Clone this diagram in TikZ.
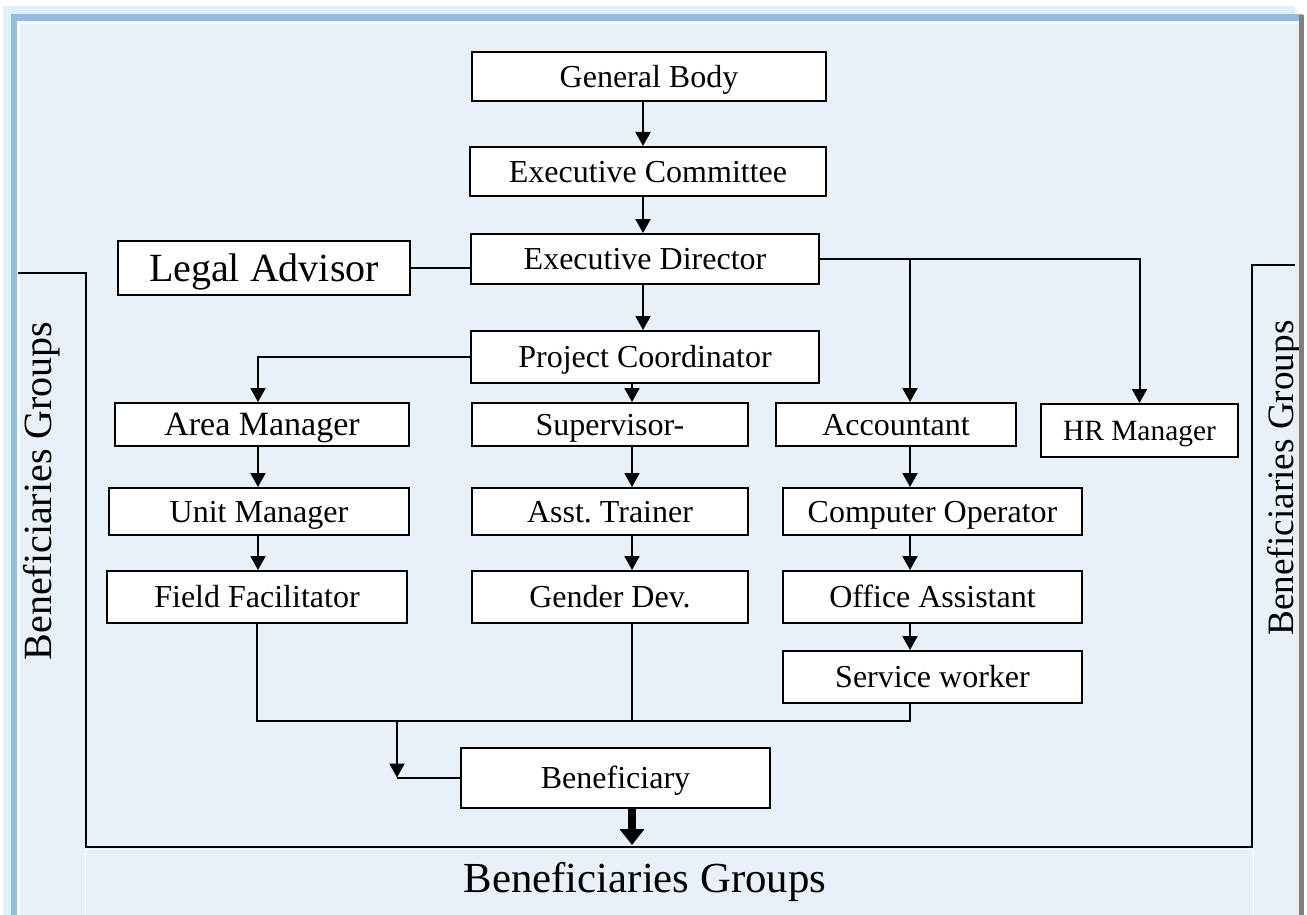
\documentclass[tikz,border=0pt]{standalone}
\usepackage{fontspec}
\setmainfont{Liberation Serif}
\usetikzlibrary{arrows.meta}

\definecolor{pagecyan}{HTML}{DAF3FD}
\definecolor{bandblue}{HTML}{95BBE0}
\definecolor{paneblue}{HTML}{E8F0F8}
\definecolor{shadowgrey}{HTML}{808080}

\begin{document}
\begin{tikzpicture}
            [
                x=0.5pt, y=-0.5pt,
                post/.style={
                    draw, fill=white, line width=1pt, inner sep=0pt,
                    text height=10.6pt, text depth=0pt,
                    font=\fontsize{16}{19}\selectfont
                },
                link/.style={line width=1pt},
                arr/.style={link, -{Triangle[width=7.5pt,length=7pt]}},
                bigarr/.style={line width=4pt, -{Triangle[width=12pt,length=8pt]}},
                side/.style={font=\fontsize{20}{24}\selectfont}
            ]
            \useasboundingbox (0,0) rectangle (1307,915);

            % page frame
            \fill[pagecyan] (3,6) rectangle (1295,915);
            \fill[bandblue] (11,14) rectangle (1303,21);
            \fill[bandblue] (11,14) rectangle (17,915);
            \fill[white] (17,21) rectangle (1299,915);
            \fill[paneblue] (20,24) rectangle (1299,915);
            \draw[white, fill=paneblue] (85,849) rectangle (1253,920);

            % column lines
            \coordinate (c0) at (643,0);
            \coordinate (c1) at (258,0);
            \coordinate (c2) at (632,0);
            \coordinate (c3) at (910,0);
            \coordinate (c5) at (397,0);
            \coordinate (mrg) at (0,721);
            \coordinate (floor) at (0,845);

            \node[post, minimum width=177pt, minimum height=24.5pt] (gb) at (649,76.5) {General Body};
            \node[post, minimum width=178pt, minimum height=24.5pt] (ec) at (648,171.5) {Executive Committee};
            \node[post, minimum width=174pt, minimum height=25pt] (ed) at (645,259) {Executive Director};
            \node[post, minimum width=146pt, minimum height=27pt, text height=13.2pt,
                font=\fontsize{20}{24}\selectfont] (la) at (264,268) {Legal Advisor};
            \node[post, minimum width=174pt, minimum height=26pt] (pc) at (645,357) {Project Coordinator};

            \node[post, minimum width=147pt, minimum height=21.5pt, text height=11.2pt,
                font=\fontsize{17}{20}\selectfont] (am) at (262,424.5) {Area Manager};
            \node[post, minimum width=138pt, minimum height=21.5pt] (sup) at (610,424.5) {Supervisor-};
            \node[post, minimum width=120pt, minimum height=21.5pt] (acc) at (896,424.5) {Accountant};
            \node[post, minimum width=98.5pt, minimum height=26.5pt, text height=9.7pt,
                font=\fontsize{14.7}{17}\selectfont] (hr) at (1139.5,430.5) {HR Manager};

            \node[post, minimum width=150pt, minimum height=23.5pt] (um) at (259,511.5) {Unit Manager};
            \node[post, minimum width=138pt, minimum height=23.5pt] (at) at (610,511.5) {Asst.\ Trainer};
            \node[post, minimum width=149.5pt, minimum height=23.5pt] (co) at (932.5,511.5) {Computer Operator};

            \node[post, minimum width=150pt, minimum height=26pt] (ff) at (257,597) {Field Facilitator};
            \node[post, minimum width=138pt, minimum height=26pt] (gd) at (610,597) {Gender Dev.};
            \node[post, minimum width=149.5pt, minimum height=26pt] (oa) at (932.5,597) {Office Assistant};
            \node[post, minimum width=149.5pt, minimum height=26pt] (sw) at (932.5,677) {Service worker};

            \node[post, minimum width=154.5pt, minimum height=30pt] (ben) at (615.5,777.5) {Beneficiary};

            % top spine
            \draw[arr] (gb.south -| c0) -- (ec.north -| c0);
            \draw[arr] (ec.south -| c0) -- (ed.north -| c0);
            \draw[arr] (ed.south -| c0) -- (pc.north -| c0);
            \draw[link] (la.east) -- (la.east -| ed.west);
            \draw[arr] (ed.east) -| (hr.north);
            \draw[arr] (ed.east -| c3) -- (acc.north -| c3);
            \draw[arr] (pc.west) -| (am.north -| c1);
            \draw[arr] (pc.south -| c2) -- (sup.north -| c2);

            % columns
            \draw[arr] (am.south -| c1) -- (um.north -| c1);
            \draw[arr] (um.south -| c1) -- (ff.north -| c1);
            \draw[arr] (sup.south -| c2) -- (at.north -| c2);
            \draw[arr] (at.south -| c2) -- (gd.north -| c2);
            \draw[arr] (acc.south -| c3) -- (co.north -| c3);
            \draw[arr] (co.south -| c3) -- (oa.north -| c3);
            \draw[arr] (oa.south -| c3) -- (sw.north -| c3);

            % merge into beneficiary
            \draw[link] (ff.south) |- (mrg -| c3) -- (sw.south -| c3);
            \draw[link] (gd.south -| c2) -- (mrg -| c2);
            \draw[arr] (mrg -| c5) -- (ben.west -| c5);
            \draw[link] (ben.west -| c5) -- (ben.west);
            \draw[bigarr] (ben.south -| c2) -- (floor -| c2);

            % groups bracket
            \draw[line width=1pt] (18,273) -- (86,273) -- (86,847) -- (1252,847) -- (1252,265) -- (1295,265);
            \node[side, rotate=90] (gl) at (42,491) {Beneficiaries Groups};
            \node[side, rotate=90, font=\fontsize{18.6}{22}\selectfont] (gr) at (1284,478) {Beneficiaries Groups};
            \node[font=\fontsize{21.4}{25}\selectfont] (gb2) at (645,882) {Beneficiaries Groups};

            \fill[shadowgrey] (1299,15) rectangle (1304,915);
            \fill[white] (1304,0) rectangle (1307,915);
\end{tikzpicture}
\end{document}
